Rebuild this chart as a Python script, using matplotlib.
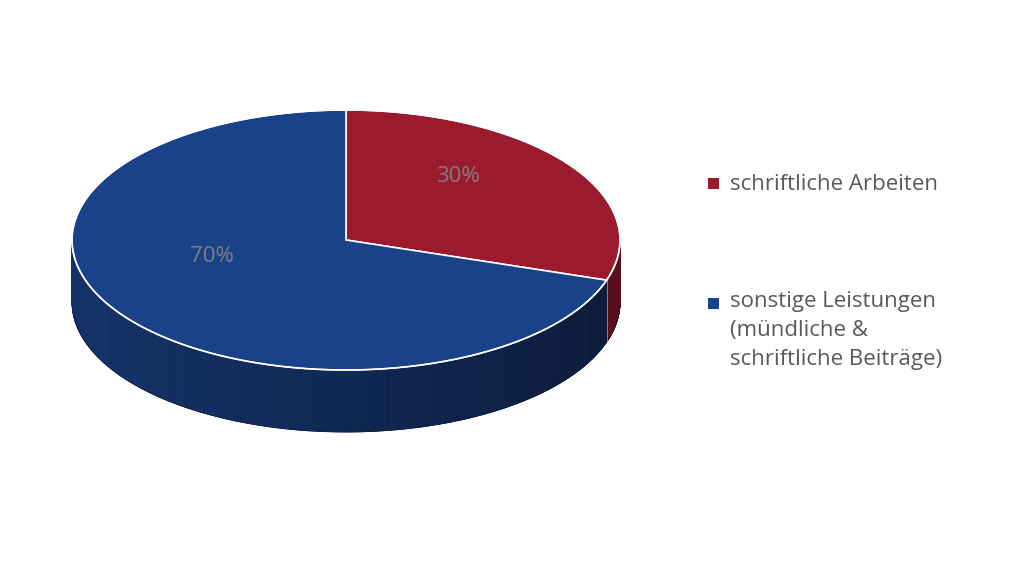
import numpy as np
import matplotlib
matplotlib.use("Agg")
import matplotlib.pyplot as plt
from matplotlib.patches import Polygon, Rectangle

labels = ["schriftliche Arbeiten", "sonstige Leistungen\n(mündliche &\nschriftliche Beiträge)"]
values = [30, 70]
pct_labels = ["30%", "70%"]
colors = ["#9b1a2e", "#1a4288"]
side_dark = ["#5a0f1b", "#0b1a3a"]

cx, cy, rx, ry, depth = 346, 240, 274, 130, 62

fig = plt.figure(figsize=(10.14, 5.68), dpi=100)
ax = fig.add_axes([0, 0, 1, 1])
ax.set_xlim(0, 1014); ax.set_ylim(568, 0); ax.axis("off")

def pt(a, dy=0):
    return cx + rx*np.cos(a), cy - ry*np.sin(a) + dy

fr = np.array(values)/sum(values)
starts = np.pi/2 - 2*np.pi*np.concatenate([[0], np.cumsum(fr)[:-1]])
ends = starts - 2*np.pi*fr

def lerp(c1, c2, t):
    a = np.array(matplotlib.colors.to_rgb(c1)); b = np.array(matplotlib.colors.to_rgb(c2))
    return a + (b-a)*t

# sides (front half: angles between -pi and 0)
for i in range(len(values)):
    s, e = starts[i], ends[i]
    # map to range to find overlap with [-pi, 0]
    for off in [0, -2*np.pi, 2*np.pi]:
        lo, hi = max(e+off, -np.pi), min(s+off, 0)
        if hi > lo:
            n = 200
            angs = np.linspace(hi, lo, n+1)
            for k in range(n):
                a0, a1 = angs[k], angs[k+1]
                x0, y0 = pt(a0); x1, y1 = pt(a1)
                t = (x0 + x1)/2
                tt = np.clip((t - (cx-rx))/(2*rx), 0, 1)
                base = lerp(colors[i], "#000000", 0.25) if i == 1 else lerp(colors[i], "#000000", 0.35)
                c = lerp(base, side_dark[i], tt**1.2)
                ax.add_patch(Polygon([(x0, y0), (x1, y1), (x1, y1+depth), (x0, y0+depth)],
                                     closed=True, fc=c, ec=c, lw=0.6))
# bottom outline
a = np.linspace(-np.pi, 0, 200)
xs, ys = pt(a, depth)
ax.plot(xs, ys, color="#0b1a3a", lw=0.5)

# top
for i in range(len(values)):
    a = np.linspace(starts[i], ends[i], 300)
    xs, ys = pt(a)
    poly = [(cx, cy)] + list(zip(xs, ys))
    ax.add_patch(Polygon(poly, closed=True, fc=colors[i], ec="white", lw=1.2))
# white edge of top ellipse front and side seam
xs, ys = pt(np.linspace(0, 2*np.pi, 400))
ax.plot(xs, ys, color="white", lw=1.0)
xe, ye = pt(ends[0])
ax.plot([xe, xe], [ye, ye+depth], color="white", lw=0.6, alpha=0.5)

# percent labels
ax.text(458, 176, pct_labels[0], fontsize=16, color="#7f7f7f", ha="center", va="center", family="Open Sans")
ax.text(212, 257, pct_labels[1], fontsize=16, color="#7f7f7f", ha="center", va="center", family="Open Sans")

# legend
ax.add_patch(Rectangle((708, 178), 11, 11, fc=colors[0], ec="none"))
ax.text(730, 184, labels[0], fontsize=16, color="#595959", va="center", family="Open Sans")
ax.add_patch(Rectangle((708, 298), 11, 11, fc=colors[1], ec="none"))
ax.text(730, 291, labels[1], fontsize=16, color="#595959", va="top", family="Open Sans", linespacing=1.5)

fig.savefig("out.png", dpi=100)
